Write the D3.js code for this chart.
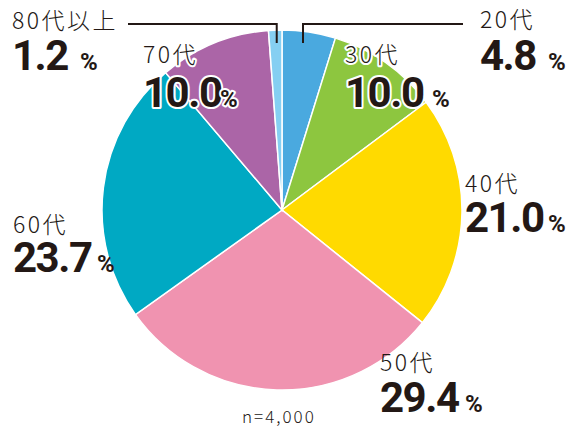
<!DOCTYPE html>
<html>
<head>
<meta charset="utf-8">
<script src="https://cdn.jsdelivr.net/npm/d3@7"></script>
<style>
  body { margin: 0; background: #fff; }
  .age { font-family: "Noto Sans CJK JP", sans-serif; font-weight: 300; font-size: 23px; fill: #231815; letter-spacing: 2.5px; }
  .num { font-family: Roboto, sans-serif; font-weight: 700; font-size: 42px; fill: #231815; letter-spacing: -1.5px; }
  .pct { font-family: Roboto, sans-serif; font-weight: 700; font-size: 24px; fill: #231815; }
  .halo { paint-order: stroke; stroke: #fff; stroke-width: 4px; stroke-linejoin: round; }
</style>
</head>
<body>
<script>
const ages = ['20代', '30代', '40代', '50代', '60代', '70代', '80代以上']
const shares = [4.8, 10.0, 21.0, 29.4, 23.7, 10.0, 1.2]
const colors = ['#4aa9df', '#8dc63f', '#ffda00', '#f093b0', '#00a9c3', '#ab65a7', '#85cff2']
const sampleNote = 'n=4,000'

// label anchor: [x of age text, baseline age, baseline number, x of %, halo?]
const labelPos = [
  [480, 28, 70, 548, false],
  [345, 63, 107, 432, true],
  [465, 192, 232, 548, false],
  [380, 371, 412, 465, false],
  [13, 233, 272, 97, false],
  [143, 63, 107, 220, true],
  [12, 29, 70, 80, false]
]

const width = 577, height = 430
const cx = 282, cy = 210, r = 180

const svg = d3.select('body').append('svg')
  .attr('width', width)
  .attr('height', height)

const pie = d3.pie().sort(null).value(d => d)
const arc = d3.arc().innerRadius(0).outerRadius(r)
const arcs = pie(shares)

const g = svg.append('g').attr('transform', 'translate(' + cx + ',' + cy + ')')

g.selectAll('path')
  .data(arcs)
  .enter().append('path')
  .attr('d', arc)
  .attr('fill', (d, i) => colors[i])
  .attr('stroke', '#fff')
  .attr('stroke-width', 1.5)

// leader lines for the two thin slices
const leadX = a => cx + (r - 40) * Math.sin((a.startAngle + a.endAngle) / 2)
svg.append('path')
  .attr('d', 'M' + leadX(arcs[0]) + ',43V24H463')
  .attr('fill', 'none').attr('stroke', '#231815').attr('stroke-width', 2)
svg.append('path')
  .attr('d', 'M' + leadX(arcs[6]) + ',43V24H128')
  .attr('fill', 'none').attr('stroke', '#231815').attr('stroke-width', 2)

ages.forEach((a, i) => {
  const [x, yAge, yNum, xPct, halo] = labelPos[i]
  svg.append('text').attr('class', 'age' + (halo ? ' halo' : ''))
    .attr('x', x).attr('y', yAge).text(a)
  svg.append('text').attr('class', 'num' + (halo ? ' halo' : ''))
    .attr('x', x).attr('y', yNum).text(shares[i].toFixed(1))
  svg.append('text').attr('class', 'pct' + (halo ? ' halo' : ''))
    .attr('x', xPct).attr('y', yNum).text('%')
})

svg.append('text')
  .attr('x', 242).attr('y', 423)
  .style('font-family', '"Noto Sans CJK JP", sans-serif')
  .style('font-weight', 300)
  .style('font-size', '17px')
  .style('letter-spacing', '2px')
  .style('fill', '#231815')
  .text(sampleNote)
</script>
</body>
</html>
